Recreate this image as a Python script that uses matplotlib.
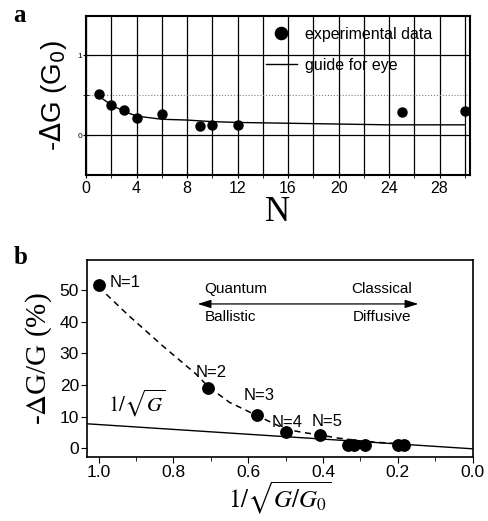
import matplotlib
matplotlib.use("Agg")
import matplotlib.pyplot as plt
from matplotlib.ticker import MultipleLocator

plt.rcParams["font.family"] = ["Liberation Sans", "DejaVu Sans"]
plt.rcParams["mathtext.fontset"] = "stix"

# panel a: -dG vs N
n_exp = [1, 2, 3, 4, 6, 9, 10, 12, 25, 30]
dg_exp = [0.52, 0.38, 0.32, 0.21, 0.26, 0.11, 0.13, 0.13, 0.29, 0.30]
n_guide = [1, 2, 3, 4, 5, 6, 8, 10, 12, 16, 20, 24, 30]
dg_guide = [0.49, 0.38, 0.30, 0.24, 0.22, 0.20, 0.19, 0.17, 0.16, 0.15, 0.14, 0.13, 0.13]

# panel b: -dG/G (%) vs 1/sqrt(G/G0)
inv_sqrt = [1.0, 0.707, 0.577, 0.5, 0.408, 0.333, 0.316, 0.289, 0.2, 0.183]
rel_dg = [51.5, 19.0, 10.5, 5.0, 4.3, 1.1, 1.1, 1.0, 1.1, 1.0]
point_labels = ["N=1", "N=2", "N=3", "N=4", "N=5"]
label_pos = [(0.93, 52.5), (0.70, 24.0), (0.57, 16.8), (0.497, 8.2), (0.39, 8.4)]
dash_x = [1.0, 0.92, 0.83, 0.74, 0.707, 0.65, 0.58, 0.5, 0.45, 0.41, 0.36, 0.3, 0.25, 0.18]
dash_y = [51.0, 42.0, 32.5, 23.5, 19.5, 14.5, 10.5, 6.0, 4.9, 4.2, 3.2, 2.3, 1.8, 1.3]
line_x = [1.03, 0.0]
line_y = [7.7, -0.2]

fig = plt.figure(figsize=(4.89, 5.21), dpi=100)

# ---- panel a ----
ax1 = fig.add_axes([0.176, 0.664, 0.785, 0.306])
ax1.set_xlim(0, 30.4)
ax1.set_ylim(-0.5, 1.5)
ax1.xaxis.set_major_locator(MultipleLocator(4))
ax1.xaxis.set_minor_locator(MultipleLocator(2))
ax1.set_yticks([0, 1])
ax1.set_yticks([0.5], minor=True)
ax1.grid(which="both", axis="x", color="k", lw=0.9)
ax1.grid(which="major", axis="y", color="k", lw=0.9)
ax1.grid(which="minor", axis="y", color="0.5", lw=0.8, ls=":")
ax1.set_axisbelow(True)
pts, = ax1.plot(n_exp, dg_exp, "o", color="k", ms=6.5, label="experimental data")
guide, = ax1.plot(n_guide, dg_guide, "-", color="k", lw=1, label="guide for eye")
ax1.tick_params(axis="x", which="both", direction="inout", labelsize=11.5, length=4, pad=2)
ax1.tick_params(axis="y", which="both", direction="inout", labelsize=6, length=4, pad=1)
for s in ax1.spines.values():
    s.set_linewidth(1.5)
ax1.set_xlabel("N", family="Liberation Serif", fontsize=25, labelpad=0)
ax1.set_ylabel(r"-$\Delta$G (G$_0$)", fontsize=20, labelpad=6)
ax1.yaxis.label.set_math_fontfamily("dejavusans")
leg = ax1.legend(handles=[pts, guide], frameon=False, fontsize=11.5, loc="upper left",
                 bbox_to_anchor=(0.43, 1.02), handlelength=2.0, handletextpad=0.45,
                 labelspacing=1.0, markerscale=1.35)
ax1.text(-0.19, 1.0, "a", transform=ax1.transAxes, family="Liberation Serif",
         fontsize=18, fontweight="bold", va="center")

# ---- panel b ----
ax2 = fig.add_axes([0.1785, 0.1234, 0.788, 0.3776])
ax2.set_xlim(1.03, 0.0)
ax2.set_ylim(-2.7, 59.5)
ax2.xaxis.set_major_locator(MultipleLocator(0.2))
ax2.xaxis.set_minor_locator(MultipleLocator(0.1))
ax2.yaxis.set_major_locator(MultipleLocator(10))
ax2.plot(line_x, line_y, "-", color="k", lw=1)
ax2.plot(dash_x, dash_y, "--", color="k", lw=1.1, dashes=(4, 3))
ax2.plot(inv_sqrt, rel_dg, "o", color="k", ms=8.2)
for lab, (lx, ly) in zip(point_labels, label_pos):
    ax2.text(lx, ly, lab, fontsize=12, ha="center", va="center")
ax2.text(0.975, 14.3, r"$1/\sqrt{G}$", fontsize=15, ha="left", va="center")
ax2.annotate("", xy=(0.735, 45.6), xytext=(0.145, 45.6),
             arrowprops=dict(arrowstyle="<|-|>,head_length=0.8,head_width=0.25",
                             color="k", lw=0.9, shrinkA=0, shrinkB=0))
ax2.text(0.717, 50.3, "Quantum", fontsize=11, ha="left", va="center")
ax2.text(0.717, 41.6, "Ballistic", fontsize=11, ha="left", va="center")
ax2.text(0.163, 50.3, "Classical", fontsize=11, ha="right", va="center")
ax2.text(0.163, 41.6, "Diffusive", fontsize=11, ha="right", va="center")
ax2.tick_params(axis="both", which="major", labelsize=12.5, length=4, pad=2)
ax2.tick_params(axis="x", which="minor", length=3)
for s in ax2.spines.values():
    s.set_linewidth(1.2)
ax2.set_xlabel(r"$1/\sqrt{G/G_{\mathrm{0}}}$", fontsize=18, labelpad=0)
ax2.set_ylabel(r"-$\Delta$G/G (%)", family="Liberation Serif", fontsize=21, labelpad=4)
ax2.text(-0.19, 1.015, "b", transform=ax2.transAxes, family="Liberation Serif",
         fontsize=18, fontweight="bold", va="center")

fig.savefig("out.png", dpi=100)
